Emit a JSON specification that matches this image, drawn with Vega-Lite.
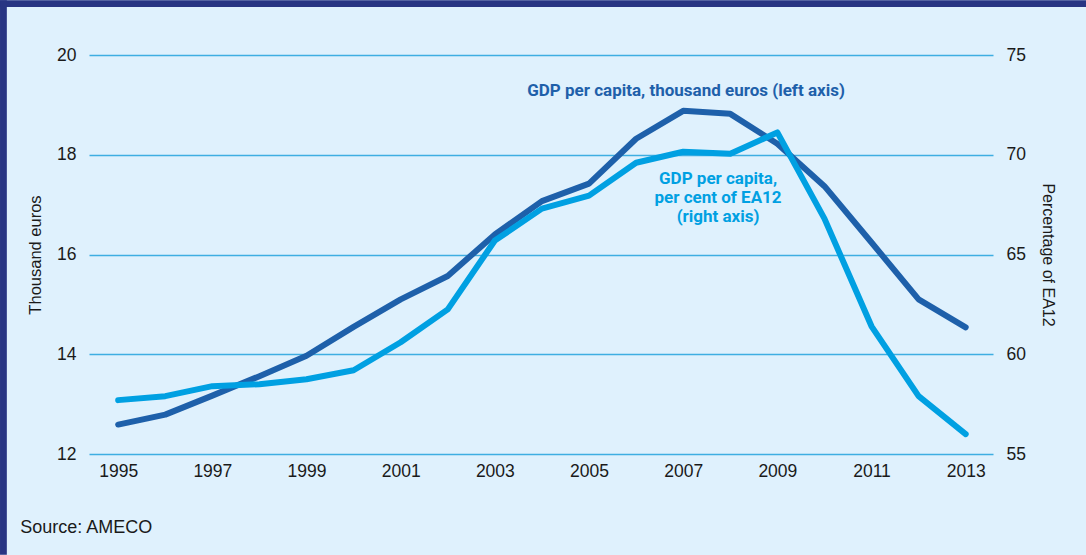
{
  "$schema": "https://vega.github.io/schema/vega-lite/v6.json",
  "width": 904,
  "height": 399,
  "autosize": {"type": "none"},
  "padding": {"left": 89, "top": 55, "right": 93, "bottom": 101},
  "background": "#dff1fd",
  "config": {
    "view": {"stroke": null},
    "font": "Liberation Sans",
    "axis": {"labelFont": "Liberation Sans", "labelFontSize": 17.5, "labelColor": "#1a1a1a", "titleFont": "Liberation Sans", "titleFontSize": 16.5, "titleFontWeight": "normal", "titleColor": "#1a1a1a", "ticks": false, "domain": false}
  },
  "datasets": {
    "gdp": [
      {"year": 1995, "thousand_euros": 12.59, "pct_ea12": 57.7},
      {"year": 1996, "thousand_euros": 12.79, "pct_ea12": 57.9},
      {"year": 1997, "thousand_euros": 13.17, "pct_ea12": 58.4},
      {"year": 1998, "thousand_euros": 13.56, "pct_ea12": 58.5},
      {"year": 1999, "thousand_euros": 13.97, "pct_ea12": 58.75},
      {"year": 2000, "thousand_euros": 14.55, "pct_ea12": 59.2},
      {"year": 2001, "thousand_euros": 15.1, "pct_ea12": 60.6},
      {"year": 2002, "thousand_euros": 15.57, "pct_ea12": 62.25},
      {"year": 2003, "thousand_euros": 16.4, "pct_ea12": 65.7},
      {"year": 2004, "thousand_euros": 17.07, "pct_ea12": 67.3},
      {"year": 2005, "thousand_euros": 17.42, "pct_ea12": 67.95},
      {"year": 2006, "thousand_euros": 18.32, "pct_ea12": 69.6},
      {"year": 2007, "thousand_euros": 18.88, "pct_ea12": 70.15},
      {"year": 2008, "thousand_euros": 18.82, "pct_ea12": 70.05},
      {"year": 2009, "thousand_euros": 18.22, "pct_ea12": 71.12},
      {"year": 2010, "thousand_euros": 17.37, "pct_ea12": 66.8},
      {"year": 2011, "thousand_euros": 16.24, "pct_ea12": 61.4},
      {"year": 2012, "thousand_euros": 15.1, "pct_ea12": 57.9},
      {"year": 2013, "thousand_euros": 14.54, "pct_ea12": 56.0}
    ],
    "notes": [
      {"series": "left", "label": "GDP per capita, thousand euros (left axis)", "lx": 2007.06, "ly": 19.27},
      {"series": "source", "label": "Source: AMECO", "lx": 1992.92, "ly": 10.52},
      {"series": "right", "label": "GDP per capita,|per cent of EA12|(right axis)", "lx": 2007.74, "ly": 68.8}
    ]
  },
  "layer": [
    {
      "layer": [
        {
          "data": {"values": [{"part": "top", "x0": 1992.49, "x1": 2015.6, "y0": 21.1, "y1": 20.96}, {"part": "left", "x0": 1992.49, "x1": 1992.635, "y0": 21.1, "y1": 9.98}]},
          "mark": {"type": "rect", "color": "#283583", "clip": false},
          "encoding": {
            "x": {"field": "x0", "type": "quantitative", "scale": {"domain": [1994.38, 2013.58], "nice": false, "zero": false}},
            "x2": {"field": "x1"},
            "y": {"field": "y0", "type": "quantitative"},
            "y2": {"field": "y1"}
          }
        },
        {
          "data": {"name": "gdp"},
          "mark": {"type": "line", "color": "#1e60aa", "strokeWidth": 6, "strokeCap": "round", "strokeJoin": "round"},
          "encoding": {
            "x": {
              "field": "year", "type": "quantitative",
              "scale": {"domain": [1994.38, 2013.58], "nice": false, "zero": false},
              "axis": {"values": [1995, 1997, 1999, 2001, 2003, 2005, 2007, 2009, 2011, 2013], "format": "d", "grid": false, "title": null, "labelPadding": 8}
            },
            "y": {
              "field": "thousand_euros", "type": "quantitative",
              "scale": {"domain": [12, 20], "nice": false, "zero": false},
              "axis": {"orient": "left", "values": [12, 14, 16, 18, 20], "title": "Thousand euros", "labelPadding": 13, "titlePadding": 13, "grid": true, "gridColor": "#3eaee2", "gridWidth": 1.3, "gridOpacity": 1}
            }
          }
        },
        {
          "data": {"name": "notes"},
          "transform": [{"filter": "datum.series === 'left'"}],
          "mark": {"type": "text", "color": "#1e60aa", "font": "Roboto", "fontWeight": "bold", "fontSize": 17, "align": "center", "baseline": "middle"},
          "encoding": {
            "x": {"field": "lx", "type": "quantitative"},
            "y": {"field": "ly", "type": "quantitative"},
            "text": {"field": "label"}
          }
        },
        {
          "data": {"name": "notes"},
          "transform": [{"filter": "datum.series === 'source'"}],
          "mark": {"type": "text", "color": "#1a1a1a", "font": "Liberation Sans", "fontSize": 18, "align": "left", "baseline": "middle", "clip": false},
          "encoding": {
            "x": {"field": "lx", "type": "quantitative"},
            "y": {"field": "ly", "type": "quantitative"},
            "text": {"field": "label"}
          }
        }
      ]
    },
    {
      "layer": [
        {
          "data": {"name": "gdp"},
          "mark": {"type": "line", "color": "#00a0e2", "strokeWidth": 6, "strokeCap": "round", "strokeJoin": "round"},
          "encoding": {
            "x": {"field": "year", "type": "quantitative"},
            "y": {
              "field": "pct_ea12", "type": "quantitative",
              "scale": {"domain": [55, 75], "nice": false, "zero": false},
              "axis": {"orient": "right", "values": [55, 60, 65, 70, 75], "title": "Percentage of EA12", "labelPadding": 13, "titlePadding": 14, "titleFontSize": 16, "grid": false}
            }
          }
        },
        {
          "data": {"name": "notes"},
          "transform": [{"filter": "datum.series === 'right'"}],
          "mark": {"type": "text", "color": "#00a0e2", "font": "Roboto", "fontWeight": "bold", "fontSize": 17, "align": "center", "baseline": "middle", "lineHeight": 19, "lineBreak": "|"},
          "encoding": {
            "x": {"field": "lx", "type": "quantitative"},
            "y": {"field": "ly", "type": "quantitative"},
            "text": {"field": "label"}
          }
        }
      ]
    }
  ],
  "resolve": {"scale": {"y": "independent"}, "axis": {"y": "independent"}}
}
